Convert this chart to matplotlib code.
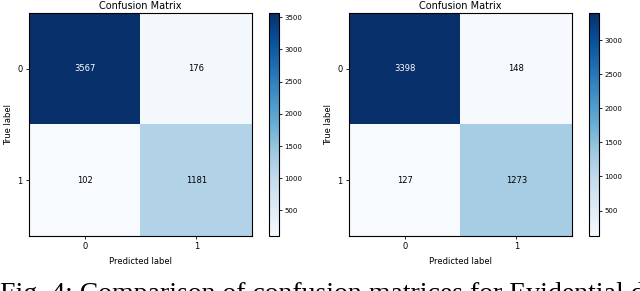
import numpy as np
import matplotlib
matplotlib.use("Agg")
import matplotlib.pyplot as plt

# confusion matrices
classes = ["0", "1"]
cm_left = np.array([[3567, 176],
                    [102, 1181]])
cm_right = np.array([[3398, 148],
                     [127, 1273]])
cbar_ticks_left = [500, 1000, 1500, 2000, 2500, 3000, 3500]
cbar_ticks_right = [500, 1000, 1500, 2000, 2500, 3000]
caption = "Fig. 4: Comparison of confusion matrices for Evidential deep learning"

W, H = 640, 291
fig = plt.figure(figsize=(W / 100, H / 100), dpi=100)


def px_axes(x0, y0, x1, y1):
    # pixel box (top-left origin) -> figure axes
    return fig.add_axes([x0 / W, 1 - y1 / H, (x1 - x0) / W, (y1 - y0) / H])


def draw_cm(ax, cax, cm, ticks):
    im = ax.imshow(cm, interpolation="nearest", cmap=plt.cm.Blues, aspect="auto")
    ax.set_title("Confusion Matrix", fontsize=7, pad=3)
    cb = fig.colorbar(im, cax=cax)
    cb.set_ticks(ticks)
    cb.ax.tick_params(labelsize=5, length=2.5, width=0.6, pad=1.5)
    cb.outline.set_linewidth(0.8)
    ax.set_xticks(range(len(classes)))
    ax.set_xticklabels(classes)
    ax.set_yticks(range(len(classes)))
    ax.set_yticklabels(classes)
    ax.tick_params(labelsize=6, length=2.5, width=0.6, pad=2)
    thresh = cm.max() / 2.0
    for i in range(cm.shape[0]):
        for j in range(cm.shape[1]):
            ax.text(j, i, format(cm[i, j], "d"), ha="center", va="center",
                    fontsize=6, color="white" if cm[i, j] > thresh else "black")
    ax.set_ylabel("True label", fontsize=6, labelpad=3)
    ax.set_xlabel("Predicted label", fontsize=6, labelpad=4)
    for s in ax.spines.values():
        s.set_linewidth(0.8)


ax1 = px_axes(29, 13, 252, 236)
cax1 = px_axes(269, 13, 279, 236)
draw_cm(ax1, cax1, cm_left, cbar_ticks_left)

ax2 = px_axes(349, 13, 572, 236)
cax2 = px_axes(589, 13, 599, 236)
draw_cm(ax2, cax2, cm_right, cbar_ticks_right)

# caption of the paper, only its top shows above the bottom edge
fig.text(0.0, 1 - 301 / H, caption, family="Liberation Serif", fontsize=20,
         ha="left", va="baseline")

fig.savefig("out.png", dpi=100)
